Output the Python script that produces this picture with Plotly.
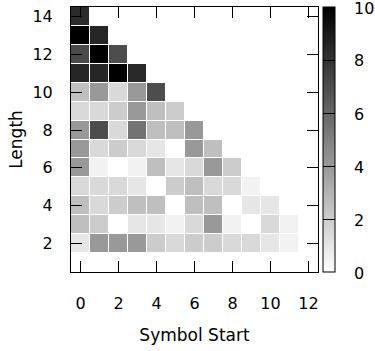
import plotly.graph_objects as go

symbol_start = list(range(13))
lengths = list(range(2, 15))

# values per length (index = symbol start)
len2 = [1, 4, 4, 4, 2, 1.5, 2, 2, 1.5, 1.5, 1, 0.5, 0]
len3 = [2.5, 2, 0, 1, 1, 0.5, 1.5, 4, 0.5, 0, 1.5, 0.5]
len4 = [2.5, 1.5, 2, 2.5, 2.5, 0, 2.5, 2.5, 0, 1, 1]
len5 = [1.5, 1.5, 1.5, 1, 0, 2, 2.5, 1.5, 1.5, 0.5]
len6 = [4, 0.5, 0, 0.5, 2.5, 1, 1.5, 4, 2]
len7 = [4, 1.5, 2, 1.5, 1, 0, 4, 2.5]
len8 = [4, 7, 1.5, 5.5, 2.5, 2.5, 4]
len9 = [1.5, 1.5, 2, 4, 2.5, 2]
len10 = [2.5, 4, 1.5, 4, 7]
len11 = [8.5, 8.5, 10, 8.4]
len12 = [7.1, 10, 7]
len13 = [10, 8.5]
len14 = [8.3]

rows = [len2, len3, len4, len5, len6, len7, len8, len9, len10, len11, len12, len13, len14]
z = [r + [None] * (len(symbol_start) - len(r)) for r in rows]

x_ticks = [0, 2, 4, 6, 8, 10, 12]
y_ticks = [2, 4, 6, 8, 10, 12, 14]
cb_ticks = [0, 2, 4, 6, 8, 10]
z_min, z_max = 0, 10

tick_font = dict(family="DejaVu Sans", size=16, color="black")
title_font = dict(family="DejaVu Sans", size=17, color="black")

fig = go.Figure(go.Heatmap(
    x=symbol_start, y=lengths, z=z,
    zmin=z_min, zmax=z_max,
    colorscale=[[0, "#ffffff"], [1, "#000000"]],
    xgap=1, ygap=1,
    hoverongaps=False,
    colorbar=dict(
        x=1.02, xanchor="left", y=0.5, yanchor="middle", len=1,
        xpad=0, ypad=0,
        thickness=12, outlinewidth=1, outlinecolor="black",
        tickmode="array", tickvals=cb_ticks,
        ticks="inside", ticklen=12, tickcolor="black",
        showticklabels=False,
    ),
))

# colorbar tick labels as text placed at the colorbar's scale positions
for v in cb_ticks:
    fig.add_annotation(
        xref="paper", yref="paper", x=1.142, y=(v - z_min) / (z_max - z_min),
        text=str(v), showarrow=False, xanchor="left", yanchor="middle",
        font=tick_font, borderpad=0, yshift=-1,
    )

axis_common = dict(
    showline=True, linecolor="black", linewidth=1, mirror="ticks",
    ticks="inside", ticklen=11, tickcolor="black", tickwidth=1,
    showgrid=False, zeroline=False, tickfont=tick_font,
)

fig.update_xaxes(range=[-0.5, 12.5], tickvals=x_ticks, ticklabelstandoff=17,
                 title=dict(text="Symbol Start", font=title_font, standoff=16), **axis_common)
fig.update_yaxes(range=[0.5, 14.5], tickvals=y_ticks, ticklabelstandoff=14,
                 title=dict(text="Length", font=title_font, standoff=5), **axis_common)

fig.update_layout(
    width=375, height=351,
    margin=dict(l=71, r=57, t=7, b=79, autoexpand=False),
    plot_bgcolor="white", paper_bgcolor="white",
    font=tick_font,
)

fig.write_html("out.html", config={"displayModeBar": False},
               post_script="document.body.style.margin='0';")
